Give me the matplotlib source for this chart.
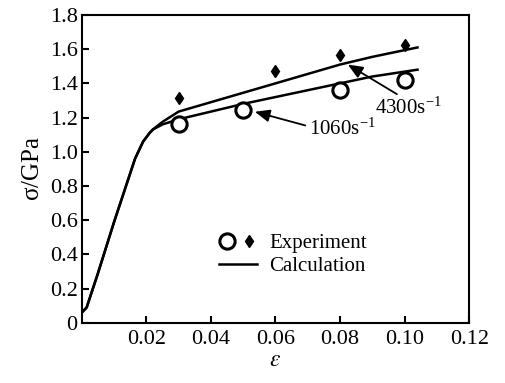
import matplotlib
matplotlib.use("Agg")
import matplotlib.pyplot as plt
from matplotlib.legend_handler import HandlerTuple

plt.rcParams['font.family'] = ['Liberation Serif', 'DejaVu Serif']
plt.rcParams['mathtext.fontset'] = 'stix'

# experiment points
exp_eps_1060 = [0.03, 0.05, 0.08, 0.10]
exp_sig_1060 = [1.16, 1.245, 1.36, 1.42]
exp_eps_4300 = [0.03, 0.06, 0.08, 0.10]
exp_sig_4300 = [1.315, 1.47, 1.565, 1.625]

# calculated curves (shared elastic part + plastic branches)
calc_eps_1060 = [0, 0.0015, 0.005, 0.010, 0.0165, 0.019, 0.021, 0.022, 0.025, 0.03,
                 0.04, 0.05, 0.06, 0.07, 0.08, 0.09, 0.104]
calc_sig_1060 = [0.06, 0.09, 0.29, 0.59, 0.96, 1.06, 1.11, 1.13, 1.16, 1.19,
                 1.235, 1.28, 1.32, 1.36, 1.40, 1.44, 1.48]
calc_eps_4300 = [0, 0.0015, 0.005, 0.010, 0.0165, 0.019, 0.021, 0.022, 0.025, 0.03,
                 0.04, 0.05, 0.06, 0.07, 0.08, 0.09, 0.104]
calc_sig_4300 = [0.06, 0.09, 0.29, 0.59, 0.96, 1.06, 1.11, 1.13, 1.175, 1.235,
                 1.29, 1.345, 1.40, 1.455, 1.51, 1.555, 1.61]

xticks = [0.02, 0.04, 0.06, 0.08, 0.10, 0.12]
xticklabels = ["0.02", "0.04", "0.06", "0.08", "0.10", "0.12"]
yticks = [0, 0.2, 0.4, 0.6, 0.8, 1.0, 1.2, 1.4, 1.6, 1.8]
yticklabels = ["0", "0.2", "0.4", "0.6", "0.8", "1.0", "1.2", "1.4", "1.6", "1.8"]

fig = plt.figure(figsize=(5.05, 3.83), dpi=100)
ax = fig.add_axes([0.162, 0.157, 0.767, 0.804])

ax.plot(calc_eps_1060, calc_sig_1060, color='k', lw=1.8)
line_calc, = ax.plot(calc_eps_4300, calc_sig_4300, color='k', lw=1.8)
circ, = ax.plot(exp_eps_1060, exp_sig_1060, 'o', ms=11, mfc='white', mec='k', mew=2.2, zorder=3)
diam, = ax.plot(exp_eps_4300, exp_sig_4300, 'd', ms=6, color='k', zorder=3)

ax.annotate("1060s$^{\\mathregular{-1}}$", xy=(0.0536, 1.234), xytext=(0.0705, 1.135),
            ha='left', va='center', fontsize=15,
            arrowprops=dict(arrowstyle='-|>,head_length=0.6,head_width=0.25', color='k',
                            lw=1.3, shrinkA=1, shrinkB=0, relpos=(0, 0.6)))
ax.annotate("4300s$^{\\mathregular{-1}}$", xy=(0.0824, 1.51), xytext=(0.0907, 1.254),
            ha='left', va='center', fontsize=15,
            arrowprops=dict(arrowstyle='-|>,head_length=0.6,head_width=0.25', color='k',
                            lw=1.3, shrinkA=1, shrinkB=0, relpos=(0.42, 1.0)))

ax.legend([(circ, diam), line_calc], ["Experiment", "Calculation"],
          handler_map={tuple: HandlerTuple(ndivide=None, pad=0.3)},
          loc='upper left', bbox_to_anchor=(0.355, 0.29), frameon=False,
          fontsize=15, handlelength=1.8, handletextpad=0.6, labelspacing=0.15,
          borderpad=0, borderaxespad=0)

ax.set_xlim(0, 0.12)
ax.set_ylim(0, 1.8)
ax.set_xticks(xticks)
ax.set_xticklabels(xticklabels)
ax.set_yticks(yticks)
ax.set_yticklabels(yticklabels)
ax.tick_params(direction='in', length=5, width=1.5, labelsize=16)
ax.tick_params(axis='x', pad=5)
ax.tick_params(axis='y', pad=3)
for s in ax.spines.values():
    s.set_linewidth(1.5)

ax.set_xlabel(r"$\varepsilon$", fontsize=17, labelpad=1)
ax.set_ylabel(r"$\mathregular{\sigma}$/GPa", fontsize=18, labelpad=4)

fig.savefig("out.png", dpi=100)
